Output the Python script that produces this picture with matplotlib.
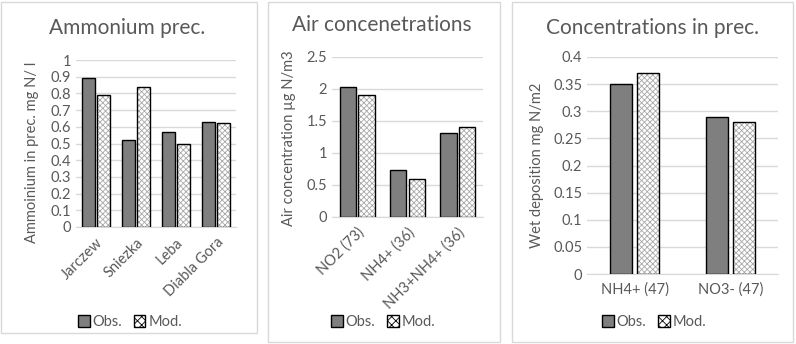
import matplotlib.pyplot as plt
from matplotlib.patches import Rectangle, Patch
import numpy as np

plt.rcParams['font.family'] = ['Lato', 'DejaVu Sans']
plt.rcParams['hatch.linewidth'] = 0.6

# panel 1: ammonium in precipitation
sites = ['Jarczew', 'Sniezka', 'Leba', 'Diabla Gora']
amm_obs = [0.89, 0.52, 0.57, 0.63]
amm_mod = [0.79, 0.84, 0.50, 0.62]

# panel 2: air concentrations
air_cats = ['NO2 (73)', 'NH4+ (36)', 'NH3+NH4+ (36)']
air_obs = [2.03, 0.74, 1.32]
air_mod = [1.90, 0.60, 1.40]

# panel 3: concentrations in precipitation
prec_cats = ['NH4+ (47)', 'NO3- (47)']
prec_obs = [0.35, 0.29]
prec_mod = [0.37, 0.28]

W, H = 796, 344
GRAY = '#595959'
OBS_C = '#7f7f7f'
HATCH = 'xxxxxx'

fig = plt.figure(figsize=(W / 100, H / 100), dpi=100)


def px_axes(left, right, top, bottom):
    return fig.add_axes([left / W, 1 - bottom / H, (right - left) / W, (bottom - top) / H])


def frame(x0, x1, y0, y1):
    fig.patches.append(Rectangle((x0 / W, 1 - y1 / H), (x1 - x0) / W, (y1 - y0) / H,
                                 transform=fig.transFigure, fill=False,
                                 edgecolor='#d9d9d9', linewidth=1))


def panel(ax, cats, obs, mod, ymax, step, width, off, title, tpos, ylabel, ylpos, legpos, rot):
    x = np.arange(len(cats))
    ax.bar(x - off, obs, width, color=OBS_C, edgecolor='black', linewidth=1, zorder=3)
    ax.bar(x + off, mod, width, color='white', edgecolor='#a8a8a8', hatch=HATCH,
           linewidth=0, zorder=3)
    ax.bar(x + off, mod, width, fill=False, edgecolor='black', linewidth=1, zorder=4)
    ax.set_xlim(-0.5, len(cats) - 0.5)
    ax.set_ylim(0, ymax)
    ticks = np.round(np.arange(0, ymax + step / 2, step), 3)
    ax.set_yticks(ticks)
    ax.set_yticklabels([f'{t:g}' for t in ticks])
    ax.yaxis.grid(True, color='#d9d9d9', linewidth=1)
    ax.set_axisbelow(True)
    for s in ['top', 'right', 'left']:
        ax.spines[s].set_visible(False)
    ax.spines['bottom'].set_color('#d9d9d9')
    ax.tick_params(length=0, colors=GRAY, labelsize=10.5)
    ax.set_xticks(x)
    if rot:
        ax.set_xticklabels(cats, rotation=45, ha='right', rotation_mode='anchor')
    else:
        ax.set_xticklabels(cats)
    ax.tick_params(axis='x', pad=6)
    fig.text(tpos[0] / W, 1 - tpos[1] / H, title, ha='center', va='center',
             fontsize=15, color=GRAY)
    fig.text(ylpos[0] / W, 1 - ylpos[1] / H, ylabel, ha='center', va='center',
             rotation=90, fontsize=10.5, color=GRAY)
    handles = [Patch(facecolor=OBS_C, edgecolor='black', label='Obs.'),
               Patch(facecolor='white', edgecolor='black', hatch='xxxx', label='Mod.')]
    fig.legend(handles=handles, loc='center', ncol=2, frameon=False,
               bbox_to_anchor=(legpos[0] / W, 1 - legpos[1] / H),
               fontsize=10.5, labelcolor=GRAY, handlelength=0.8, handleheight=0.8,
               handletextpad=0.2, columnspacing=0.8)


frame(1, 257, 2, 333)
frame(268, 500, 2, 342)
frame(512, 793, 2, 342)

ax1 = px_axes(76, 236, 60, 227)
panel(ax1, sites, amm_obs, amm_mod, 1.0, 0.1, 0.32, 0.19, 'Ammonium prec.', (127, 28),
      'Ammoinium in prec. mg N/ l', (32, 152), (130, 322), True)

ax2 = px_axes(332, 483, 57, 217)
panel(ax2, air_cats, air_obs, air_mod, 2.5, 0.5, 0.32, 0.185, 'Air concenetrations', (382, 25),
      'Air concentration µg N/m3', (289, 138), (383, 322), True)

ax3 = px_axes(587, 778, 57, 274)
panel(ax3, prec_cats, prec_obs, prec_mod, 0.4, 0.05, 0.23, 0.14, 'Concentrations in prec.',
      (653, 28), 'Wet deposition mg N/m2', (537, 165), (654, 322), False)

fig.savefig('out.png', dpi=100)
